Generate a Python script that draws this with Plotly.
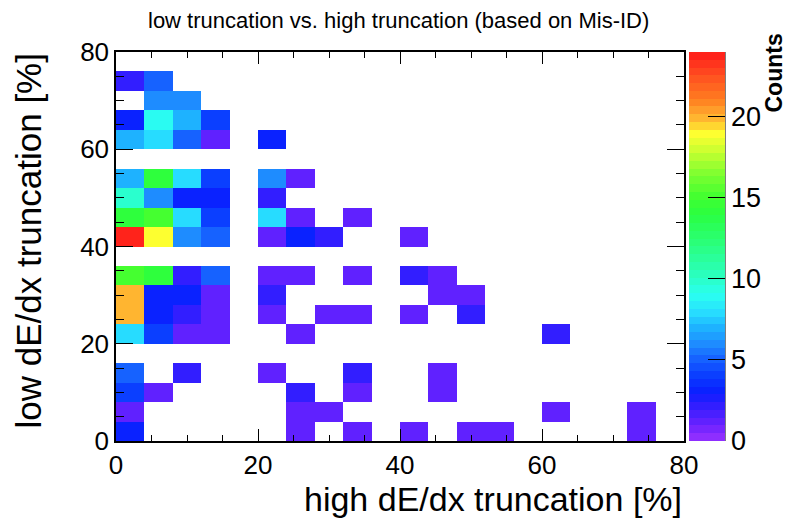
import plotly.graph_objects as go
import numpy as np

# ---- data (bin centres in %, counts per bin; row index = y bin from 0-4% upward) ----
x_centers = [2, 6, 10, 14, 18, 22, 26, 30, 34, 38, 42, 46, 50, 54, 58, 62, 66, 70, 74, 78]
y_centers = [2, 6, 10, 14, 18, 22, 26, 30, 34, 38, 42, 46, 50, 54, 58, 62, 66, 70, 74, 78]

counts = [
    # x: 0  4  8 12 16 20 24 28 32 36 40 44 48 52 56 60 64 68 72 76
    [3, 0, 0, 0, 0, 0, 1, 0, 1, 0, 1, 0, 1, 1, 0, 0, 0, 0, 1, 0],    # 0-4
    [1, 0, 0, 0, 0, 0, 1, 1, 0, 0, 0, 0, 0, 0, 0, 1, 0, 0, 1, 0],    # 4-8
    [4, 1, 0, 0, 0, 0, 2, 0, 1, 0, 0, 1, 0, 0, 0, 0, 0, 0, 0, 0],    # 8-12
    [5, 0, 2, 0, 0, 1, 0, 0, 2, 0, 0, 1, 0, 0, 0, 0, 0, 0, 0, 0],    # 12-16
    [0, 0, 0, 0, 0, 0, 0, 0, 0, 0, 0, 0, 0, 0, 0, 0, 0, 0, 0, 0],    # 16-20
    [8, 4, 1, 1, 0, 0, 1, 0, 0, 0, 0, 0, 0, 0, 0, 2, 0, 0, 0, 0],    # 20-24
    [20, 3, 2, 1, 0, 1, 0, 1, 1, 0, 1, 0, 2, 0, 0, 0, 0, 0, 0, 0],   # 24-28
    [20, 3, 3, 1, 0, 2, 0, 0, 0, 0, 0, 1, 1, 0, 0, 0, 0, 0, 0, 0],   # 28-32
    [15, 14, 2, 5, 0, 1, 1, 0, 1, 0, 2, 1, 0, 0, 0, 0, 0, 0, 0, 0],  # 32-36
    [0, 0, 0, 0, 0, 0, 0, 0, 0, 0, 0, 0, 0, 0, 0, 0, 0, 0, 0, 0],    # 36-40
    [24, 19, 6, 5, 0, 1, 3, 2, 0, 0, 1, 0, 0, 0, 0, 0, 0, 0, 0, 0],  # 40-44
    [14, 15, 8, 4, 0, 8, 1, 0, 1, 0, 0, 0, 0, 0, 0, 0, 0, 0, 0, 0],  # 44-48
    [10, 6, 3, 3, 0, 2, 0, 0, 0, 0, 0, 0, 0, 0, 0, 0, 0, 0, 0, 0],   # 48-52
    [7, 14, 8, 4, 0, 6, 1, 0, 0, 0, 0, 0, 0, 0, 0, 0, 0, 0, 0, 0],   # 52-56
    [0, 0, 0, 0, 0, 0, 0, 0, 0, 0, 0, 0, 0, 0, 0, 0, 0, 0, 0, 0],    # 56-60
    [7, 8, 5, 1, 0, 3, 0, 0, 0, 0, 0, 0, 0, 0, 0, 0, 0, 0, 0, 0],    # 60-64
    [3, 9, 7, 4, 0, 0, 0, 0, 0, 0, 0, 0, 0, 0, 0, 0, 0, 0, 0, 0],    # 64-68
    [0, 6, 6, 0, 0, 0, 0, 0, 0, 0, 0, 0, 0, 0, 0, 0, 0, 0, 0, 0],    # 68-72
    [2, 5, 0, 0, 0, 0, 0, 0, 0, 0, 0, 0, 0, 0, 0, 0, 0, 0, 0, 0],    # 72-76
    [0, 0, 0, 0, 0, 0, 0, 0, 0, 0, 0, 0, 0, 0, 0, 0, 0, 0, 0, 0],    # 76-80
]
tick_vals = [0, 20, 40, 60, 80]
cbar_ticks = [0, 5, 10, 15, 20]
z_min, z_max = 0, 24

# empty bins are not drawn (ROOT COLZ style)
z = [[(v if v > 0 else None) for v in row] for row in counts]

# ---- ROOT-like rainbow palette (violet -> red) in 50 discrete bands ----
pal_pts = [
    (0.0, "#9932ff"), (1.0, "#6a22ff"), (2.0, "#3a1eff"), (3.0, "#0a1eff"),
    (4.0, "#0a3cff"), (5.0, "#1660ff"), (6.0, "#1e8cff"), (7.0, "#1eb4ff"),
    (8.0, "#28e0ff"), (9.0, "#2afff0"), (10.0, "#2affc8"), (12.0, "#2aff80"),
    (14.0, "#2aff40"), (15.0, "#40ff30"), (16.5, "#80ff30"), (18.0, "#d0ff30"),
    (19.0, "#ffff30"), (19.5, "#ffd030"), (20.0, "#ffb030"), (21.0, "#ff8020"),
    (22.5, "#ff5020"), (24.0, "#ff1a1a"),
]
pv = np.array([p[0] for p in pal_pts])
prgb = np.array([[int(c[1:3], 16), int(c[3:5], 16), int(c[5:7], 16)] for _, c in pal_pts])
nband = 50
colorscale = []
for i in range(nband):
    v = z_min + (i + 0.5) / nband * (z_max - z_min)
    rgb = [int(round(np.interp(v, pv, prgb[:, k]))) for k in range(3)]
    col = "rgb(%d,%d,%d)" % tuple(rgb)
    colorscale.append([i / nband, col])
    colorscale.append([(i + 1) / nband, col])

FONT = "Liberation Sans, Arial, Helvetica, sans-serif"
L, R, T, B = 116, 684, 52, 441   # plot area in pixels
PW, PH = R - L, B - T

fig = go.Figure(go.Heatmap(
    x=x_centers, y=y_centers, z=z,
    zmin=z_min, zmax=z_max, colorscale=colorscale,
    hoverongaps=False,
    colorbar=dict(
        x=(689 - L) / PW, xanchor="left", xpad=0,
        y=0.5, yanchor="middle", ypad=0,
        len=1, lenmode="fraction",
        thickness=36, thicknessmode="pixels",
        outlinewidth=0,
        tickvals=cbar_ticks,
        ticks="inside", ticklen=17, tickcolor="black", tickwidth=1,
        tickfont=dict(family=FONT, size=27, color="black"),
    ),
))

axis_common = dict(
    range=[0, 80], tickvals=tick_vals, ticks="inside", tickcolor="black",
    tickwidth=1, showline=True, linecolor="black", linewidth=1.5,
    mirror="ticks", showgrid=False, zeroline=False,
    tickfont=dict(family=FONT, size=26, color="black"),
)
fig.update_xaxes(**axis_common, ticklen=12,
                 minor=dict(dtick=5, ticks="inside", ticklen=6, tickcolor="black", tickwidth=1))
fig.update_yaxes(**axis_common, ticklen=17,
                 minor=dict(dtick=5, ticks="inside", ticklen=8, tickcolor="black", tickwidth=1))

fig.update_layout(
    width=785, height=520,
    margin=dict(l=L, r=785 - R, t=T, b=520 - B, autoexpand=False),
    paper_bgcolor="white", plot_bgcolor="white",
    font=dict(family=FONT, color="black"),
    showlegend=False,
    annotations=[
        dict(text="low truncation vs. high truncation (based on Mis-ID)",
             xref="paper", yref="paper", x=(398 - L) / PW, y=(B - 20) / PH,
             xanchor="center", yanchor="middle", showarrow=False,
             font=dict(family=FONT, size=22, color="black")),
        dict(text="high dE/dx truncation [%]",
             xref="paper", yref="paper", x=1.0, y=(B - 499) / PH,
             xanchor="right", yanchor="middle", showarrow=False,
             font=dict(family=FONT, size=34, color="black")),
        dict(text="low dE/dx truncation [%]", textangle=-90,
             xref="paper", yref="paper", x=(28 - L) / PW, y=1.0,
             xanchor="center", yanchor="top", showarrow=False,
             font=dict(family=FONT, size=35, color="black")),
        dict(text="<b>Counts</b>", textangle=-90,
             xref="paper", yref="paper", x=(774 - L) / PW, y=(B - 32) / PH,
             xanchor="center", yanchor="top", showarrow=False,
             font=dict(family=FONT, size=23, color="black")),
    ],
    shapes=[
        dict(type="line", xref="paper", yref="paper",
             x0=(725 - L) / PW, x1=(725 - L) / PW, y0=0, y1=1,
             line=dict(color="black", width=1)),
    ],
)

fig.write_html("out.html")
